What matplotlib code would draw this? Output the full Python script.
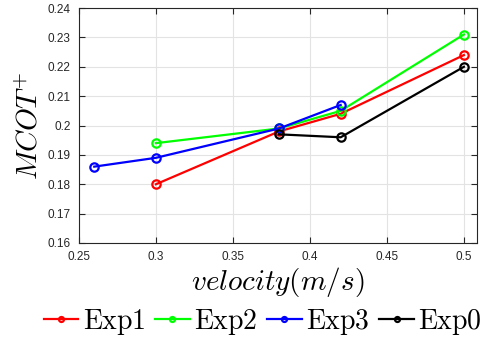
import matplotlib
matplotlib.use('Agg')
import matplotlib.pyplot as plt

plt.rcParams['mathtext.fontset'] = 'cm'
plt.rcParams['font.family'] = ['Liberation Sans', 'DejaVu Sans']

# data
exp1_x = [0.30, 0.38, 0.42, 0.50]
exp1_y = [0.180, 0.198, 0.204, 0.224]
exp2_x = [0.30, 0.38, 0.42, 0.50]
exp2_y = [0.194, 0.199, 0.205, 0.231]
exp3_x = [0.26, 0.30, 0.38, 0.42]
exp3_y = [0.186, 0.189, 0.199, 0.207]
exp0_x = [0.38, 0.42, 0.50]
exp0_y = [0.197, 0.196, 0.220]

xticks = [0.25, 0.3, 0.35, 0.4, 0.45, 0.5]
xtick_labels = ['0.25', '0.3', '0.35', '0.4', '0.45', '0.5']
yticks = [0.16, 0.17, 0.18, 0.19, 0.2, 0.21, 0.22, 0.23, 0.24]
ytick_labels = ['0.16', '0.17', '0.18', '0.19', '0.2', '0.21', '0.22', '0.23', '0.24']

fig = plt.figure(figsize=(4.93, 3.37), dpi=100)
ax = fig.add_axes([0.160, 0.279, 0.8075, 0.697])

style = dict(marker='o', markersize=6, markeredgewidth=1.6, markerfacecolor='none', linewidth=1.6)
ax.plot(exp1_x, exp1_y, color='#ff0000', label=r'$\mathrm{Exp1}$', **style)
ax.plot(exp2_x, exp2_y, color='#00ff00', label=r'$\mathrm{Exp2}$', **style)
ax.plot(exp3_x, exp3_y, color='#0000ff', label=r'$\mathrm{Exp3}$', **style)
ax.plot(exp0_x, exp0_y, color='#000000', label=r'$\mathrm{Exp0}$', **style)

ax.set_xlim(0.25, 0.5085)
ax.set_ylim(0.16, 0.24)
ax.set_xticks(xticks)
ax.set_xticklabels(xtick_labels)
ax.set_yticks(yticks)
ax.set_yticklabels(ytick_labels)
ax.tick_params(direction='in', length=4, width=0.8, top=True, right=True,
               labelsize=8.5, colors='#262626', pad=6)
ax.grid(True, color='#e3e3e3', linewidth=0.8)
ax.set_axisbelow(True)
for s in ax.spines.values():
    s.set_color('#262626')
    s.set_linewidth(0.8)

ax.set_xlabel(r'$velocity(m/s)$', fontsize=21, labelpad=1)
ax.set_ylabel(r'$MCOT^{+}$', fontsize=21, labelpad=3)

fig.legend(loc='center', bbox_to_anchor=(0.533, 0.045), ncol=4, frameon=False,
           fontsize=20, handlelength=1.25, handletextpad=0.15, columnspacing=0.35,
           markerscale=0.6, borderaxespad=0, borderpad=0)

plt.savefig('out.png', dpi=100)
plt.close()
